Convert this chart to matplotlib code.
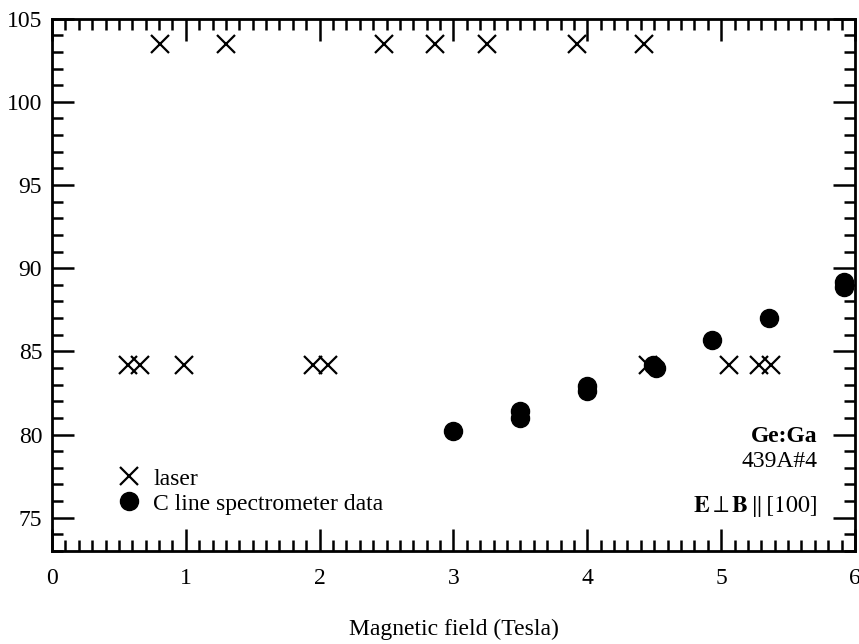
import matplotlib.pyplot as plt
from matplotlib.ticker import MultipleLocator

plt.rcParams['font.family'] = ['Liberation Serif', 'DejaVu Serif']
plt.rcParams['mathtext.fontset'] = 'stix'

# laser lines (crosses)
laser_B = [0.81, 1.30, 2.48, 2.86, 3.25, 3.92, 4.42,
           0.57, 0.66, 0.99, 1.95, 2.06, 4.45, 5.06, 5.28, 5.37]
laser_E = [103.5, 103.5, 103.5, 103.5, 103.5, 103.5, 103.5,
           84.2, 84.2, 84.2, 84.2, 84.2, 84.2, 84.2, 84.2, 84.2]

# C line spectrometer data (dots)
cline_B = [3.00, 3.50, 3.50, 4.00, 4.00, 4.49, 4.51, 4.93, 5.36, 5.92, 5.92]
cline_E = [80.2, 81.4, 81.0, 82.9, 82.6, 84.2, 84.0, 85.7, 87.0, 89.2, 88.9]

fig = plt.figure(figsize=(8.59, 6.44), dpi=100)
ax = fig.add_axes([0.0605, 0.1444, 0.9348, 0.8266])

ax.plot(laser_B, laser_E, 'x', color='black', markersize=13, markeredgewidth=1.6, label='laser')
ax.plot(cline_B, cline_E, 'o', color='black', markersize=13, label='C line spectrometer data')

ax.set_xlim(0, 6)
ax.set_ylim(73, 105)
ax.xaxis.set_major_locator(MultipleLocator(1))
ax.xaxis.set_minor_locator(MultipleLocator(0.1))
ax.yaxis.set_minor_locator(MultipleLocator(1))
ax.set_yticks([75, 80, 85, 90, 95, 100, 105])

ax.tick_params(which='both', direction='in', top=True, right=True, labelsize=17, width=1.8)
ax.tick_params(which='major', length=16)
ax.tick_params(which='minor', length=8)
ax.tick_params(axis='x', which='major', pad=12)
ax.tick_params(axis='y', which='major', pad=7)
for s in ax.spines.values():
    s.set_linewidth(2)

ax.set_xlabel('Magnetic field (Tesla)', fontsize=17, labelpad=22)

ax.legend(loc='center left', bbox_to_anchor=(0.07, 0.112), frameon=False, fontsize=17,
          handletextpad=0.5, labelspacing=0.15, borderaxespad=0, handlelength=1.0)

ax.text(0.953, 0.216, 'Ge:Ga', transform=ax.transAxes, ha='right', va='center',
        fontsize=17, fontweight='bold')
ax.text(0.953, 0.169, '439A#4', transform=ax.transAxes, ha='right', va='center', fontsize=17)
ax.text(0.953, 0.083, r'$\mathbf{E}\perp\mathbf{B}\,\Vert\,[100]$', transform=ax.transAxes,
        ha='right', va='center', fontsize=17)

plt.savefig('out.png', dpi=100)
